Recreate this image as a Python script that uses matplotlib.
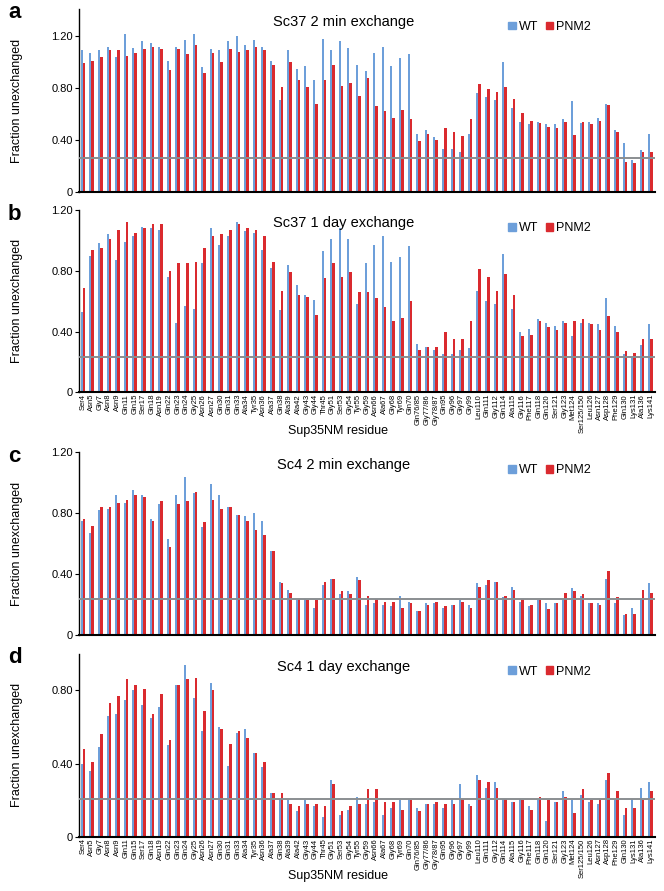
import numpy as np
import matplotlib
matplotlib.use('Agg')
import matplotlib.pyplot as plt
from matplotlib.patches import Patch

plt.rcParams['font.family'] = ['Liberation Sans', 'DejaVu Sans']

residues = ['Ser4', 'Asn5', 'Gly7', 'Asn8', 'Asn9', 'Gln11', 'Gln15', 'Ser17', 'Gln18', 'Asn19',
            'Gln22', 'Gln23', 'Gln24', 'Gly25', 'Asn26', 'Asn27', 'Gln30', 'Gln31', 'Gln33', 'Ala34',
            'Tyr35', 'Asn36', 'Ala37', 'Gln38', 'Ala39', 'Ala42', 'Gly43', 'Gly44', 'Thr45', 'Gly51',
            'Ser53', 'Gly54', 'Tyr55', 'Gly59', 'Asn66', 'Ala67', 'Gly68', 'Tyr69', 'Gln70', 'Gln76/85',
            'Gly77/86', 'Gly78/87', 'Gln95', 'Gly96', 'Gly97', 'Gly99', 'Leu110', 'Gln111', 'Gly112',
            'Gln114', 'Ala115', 'Gly116', 'Phe117', 'Gln118', 'Gln120', 'Ser121', 'Gly123', 'Met124',
            'Ser125/150', 'Leu126', 'Asn127', 'Asp128', 'Phe129', 'Gln130', 'Lys131', 'Ala136', 'Lys141']

# Sc37 2 min exchange
sc37_2min_wt = [1.09, 1.07, 1.09, 1.12, 1.04, 1.22, 1.11, 1.16, 1.15, 1.12, 1.01, 1.12, 1.17, 1.22, 0.96, 1.10,
                1.09, 1.16, 1.20, 1.13, 1.17, 1.12,
                1.01, 0.71, 1.09, 0.95, 0.97, 0.86, 1.18, 1.09, 1.16, 1.11, 0.98, 0.93, 1.07, 1.12, 0.97, 1.03, 1.06,
                0.45, 0.48, 0.42, 0.33, 0.33, 0.31, 0.45,
                0.76, 0.73, 0.71, 1.00, 0.65, 0.54, 0.52, 0.54, 0.52, 0.52, 0.56, 0.70, 0.53, 0.54, 0.57, 0.68,
                0.48, 0.38, 0.25, 0.32, 0.45]
sc37_2min_pnm2 = [0.99, 1.01, 1.04, 1.09, 1.09, 1.05, 1.07, 1.10, 1.12, 1.10, 0.94, 1.10, 1.06, 1.13, 0.92, 1.07,
                  1.00, 1.10, 1.08, 1.09, 1.12, 1.09,
                  0.98, 0.81, 1.00, 0.86, 0.81, 0.68, 0.86, 0.98, 0.82, 0.84, 0.74, 0.88, 0.66, 0.62, 0.57, 0.63, 0.56,
                  0.39, 0.45, 0.40, 0.49, 0.46, 0.43, 0.56,
                  0.83, 0.79, 0.77, 0.81, 0.72, 0.61, 0.55, 0.53, 0.50, 0.49, 0.54, 0.44, 0.54, 0.52, 0.55, 0.67,
                  0.46, 0.23, 0.22, 0.31, 0.31]

# Sc37 1 day exchange
sc37_1day_wt = [0.53, 0.90, 0.98, 1.04, 0.87, 0.99, 1.03, 1.09, 1.08, 1.07, 0.76, 0.46, 0.57, 0.55, 0.85, 1.08,
                0.97, 1.03, 1.12, 1.06, 1.05, 0.94,
                0.82, 0.54, 0.84, 0.71, 0.64, 0.61, 0.93, 1.01, 1.08, 1.01, 0.58, 0.85, 0.97, 1.03, 0.86, 0.89, 0.96,
                0.32, 0.30, 0.28, 0.25, 0.25, 0.28, 0.29,
                0.67, 0.60, 0.58, 0.91, 0.55, 0.40, 0.42, 0.48, 0.46, 0.44, 0.47, 0.37, 0.46, 0.46, 0.45, 0.62,
                0.44, 0.25, 0.23, 0.31, 0.45]
sc37_1day_pnm2 = [0.69, 0.94, 0.95, 1.01, 1.07, 1.12, 1.05, 1.08, 1.11, 1.11, 0.80, 0.85, 0.85, 0.86, 0.95, 1.03,
                  1.04, 1.07, 1.11, 1.08, 1.07, 1.03,
                  0.86, 0.67, 0.79, 0.64, 0.63, 0.51, 0.75, 0.85, 0.76, 0.79, 0.66, 0.66, 0.62, 0.56, 0.47, 0.49, 0.60,
                  0.28, 0.30, 0.30, 0.40, 0.35, 0.35, 0.47,
                  0.81, 0.76, 0.67, 0.78, 0.64, 0.37, 0.38, 0.47, 0.43, 0.41, 0.46, 0.47, 0.48, 0.45, 0.41, 0.50,
                  0.40, 0.27, 0.26, 0.35, 0.35]

# Sc4 2 min exchange
sc4_2min_wt = [0.75, 0.67, 0.82, 0.83, 0.92, 0.87, 0.95, 0.92, 0.76, 0.86, 0.63, 0.92, 1.04, 0.93, 0.71, 0.99,
               0.92, 0.84, 0.79, 0.78, 0.80, 0.75,
               0.55, 0.35, 0.30, 0.23, 0.24, 0.18, 0.33, 0.37, 0.27, 0.29, 0.38, 0.20, 0.21, 0.20, 0.19, 0.26, 0.22,
               0.16, 0.21, 0.21, 0.18, 0.20, 0.23, 0.20,
               0.34, 0.33, 0.35, 0.25, 0.32, 0.22, 0.19, 0.23, 0.21, 0.21, 0.24, 0.31, 0.26, 0.21, 0.21, 0.37,
               0.21, 0.13, 0.18, 0.24, 0.34]
sc4_2min_pnm2 = [0.76, 0.72, 0.84, 0.84, 0.87, 0.89, 0.92, 0.91, 0.75, 0.88, 0.58, 0.86, 0.88, 0.94, 0.74, 0.89,
                 0.83, 0.84, 0.79, 0.75, 0.69, 0.66,
                 0.55, 0.34, 0.28, 0.24, 0.23, 0.23, 0.35, 0.37, 0.29, 0.27, 0.36, 0.26, 0.24, 0.22, 0.22, 0.18, 0.21,
                 0.16, 0.20, 0.22, 0.19, 0.20, 0.22, 0.18,
                 0.32, 0.36, 0.35, 0.26, 0.30, 0.24, 0.20, 0.23, 0.17, 0.21, 0.28, 0.29, 0.27, 0.21, 0.20, 0.42,
                 0.25, 0.14, 0.14, 0.30, 0.28]

# Sc4 1 day exchange
sc4_1day_wt = [0.40, 0.36, 0.49, 0.66, 0.67, 0.75, 0.80, 0.72, 0.65, 0.71, 0.50, 0.83, 0.94, 0.76, 0.58, 0.84,
               0.60, 0.39, 0.57, 0.59, 0.46, 0.38,
               0.24, 0.21, 0.20, 0.14, 0.20, 0.17, 0.11, 0.31, 0.12, 0.15, 0.22, 0.18, 0.19, 0.12, 0.16, 0.20, 0.21,
               0.16, 0.18, 0.18, 0.16, 0.21, 0.29, 0.18,
               0.34, 0.27, 0.30, 0.21, 0.19, 0.21, 0.17, 0.20, 0.09, 0.19, 0.25, 0.20, 0.23, 0.19, 0.18, 0.31,
               0.21, 0.12, 0.21, 0.27, 0.30]
sc4_1day_pnm2 = [0.48, 0.41, 0.56, 0.73, 0.77, 0.86, 0.83, 0.81, 0.67, 0.78, 0.53, 0.83, 0.86, 0.87, 0.69, 0.80,
                 0.59, 0.51, 0.58, 0.54, 0.46, 0.41,
                 0.24, 0.24, 0.18, 0.17, 0.18, 0.18, 0.17, 0.29, 0.14, 0.17, 0.18, 0.26, 0.26, 0.19, 0.19, 0.15, 0.20,
                 0.14, 0.18, 0.19, 0.18, 0.18, 0.21, 0.17,
                 0.31, 0.30, 0.27, 0.21, 0.19, 0.20, 0.15, 0.22, 0.20, 0.19, 0.22, 0.13, 0.26, 0.20, 0.21, 0.35,
                 0.25, 0.16, 0.16, 0.20, 0.25]

titles = ['Sc37 2 min exchange', 'Sc37 1 day exchange', 'Sc4 2 min exchange', 'Sc4 1 day exchange']
panel_letters = ['a', 'b', 'c', 'd']
baselines = [0.26, 0.235, 0.235, 0.21]
ymaxes = [1.41, 1.2, 1.2, 1.0]
yticks = [[0, 0.4, 0.8, 1.2], [0, 0.4, 0.8, 1.2], [0, 0.4, 0.8, 1.2], [0, 0.4, 0.8]]

BLUE = '#6d9fda'
RED = '#da2a2f'
GREY = '#8a8e92'

W, H = 664, 891
# axes boxes in pixels: (top, bottom)
boxes = [(8.9, 192.0), (210.0, 392.5), (452.3, 635.3), (653.7, 837.0)]
left_px, right_px = 79, 655

fig = plt.figure(figsize=(W / 100, H / 100), dpi=100)

data = [(sc37_2min_wt, sc37_2min_pnm2), (sc37_1day_wt, sc37_1day_pnm2),
        (sc4_2min_wt, sc4_2min_pnm2), (sc4_1day_wt, sc4_1day_pnm2)]
x = np.arange(len(residues))

for i, ((wt, pnm2), (top, bot)) in enumerate(zip(data, boxes)):
    h = bot - top
    ax = fig.add_axes([left_px / W, 1 - bot / H, (right_px - left_px) / W, h / H])
    ax.bar(x - 0.15, wt, width=0.24, color=BLUE, linewidth=0, zorder=2)
    ax.bar(x + 0.12, pnm2, width=0.30, color=RED, linewidth=0, zorder=2)
    ax.axhline(baselines[i], color=GREY, lw=1.4, zorder=3)

    ax.set_xlim(-0.47, 66.5)
    ax.set_ylim(0, ymaxes[i])
    ax.set_yticks(yticks[i])
    ax.set_yticklabels(['0' if v == 0 else '%.2f' % v for v in yticks[i]], fontsize=8)
    ax.tick_params(axis='y', length=3, width=0.8, pad=1.5)
    for s in ['top', 'right']:
        ax.spines[s].set_visible(False)
    ax.spines['left'].set_linewidth(1.0)
    ax.spines['bottom'].set_linewidth(1.5)

    if i in (1, 3):
        ax.set_xticks(x)
        ax.set_xticklabels(residues, rotation=90, fontsize=5.5)
        ax.tick_params(axis='x', length=0, pad=1)
        ax.set_xlabel('Sup35NM residue', fontsize=9)
        ax.xaxis.set_label_coords(0.45, -39 / h)
        ax.xaxis.label.set_va('center')
    else:
        ax.set_xticks([])

    ax.set_ylabel('Fraction unexchanged', fontsize=9)
    ax.yaxis.set_label_coords(-0.098, 0.5)

    ax.text(0.46, 1 - 13 / h, titles[i], transform=ax.transAxes,
            ha='center', va='center', fontsize=10.5)

    handles = [Patch(color=BLUE, label='WT'), Patch(color=RED, label='PNM2')]
    ax.legend(handles=handles, loc='center left',
              bbox_to_anchor=(0.745, 1 - 18 / h), ncol=2, frameon=False,
              fontsize=9, handlelength=0.6, handleheight=0.6, handletextpad=0.25,
              columnspacing=0.6, borderpad=0, borderaxespad=0)

    fig.text(8 / W, 1 - (top + 4) / H, panel_letters[i], fontsize=16,
             fontweight='bold', ha='left', va='center')

fig.savefig('out.png', dpi=100)
